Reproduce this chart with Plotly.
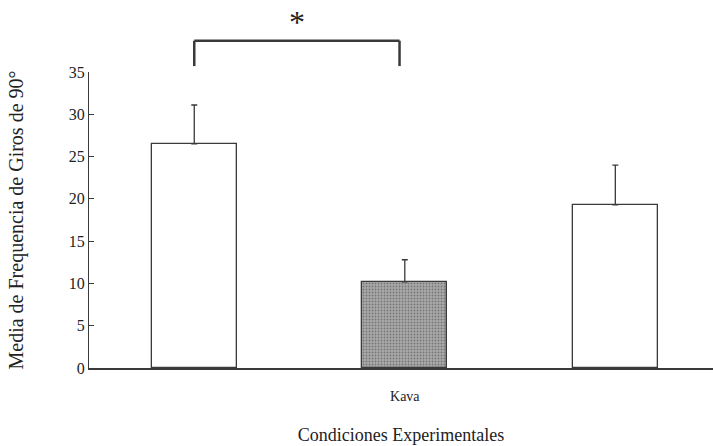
import plotly.graph_objects as go

categories = ["", "Kava", " "]
means = [26.5, 10.2, 19.3]
errors = [4.6, 2.6, 4.7]
bar_colors = ["#ffffff", "#a9a9a9", "#ffffff"]
y_ticks = [0, 5, 10, 15, 20, 25, 30, 35]

bracket_from, bracket_to = 0, 0.975
bracket_top, bracket_bottom = 38.7, 35.7
star_y = 43.3
y_max = 35

line_col = "#3a3a3a"
font_fam = "Liberation Serif"

fig = go.Figure()
fig.add_trace(go.Bar(
    x=[0, 1, 2], y=means, width=0.404,
    marker=dict(color=bar_colors, line=dict(color=line_col, width=1.3),
                pattern=dict(shape=["", ".", ""], fgcolor="#8a8a8a", bgcolor=bar_colors, size=3, solidity=0.3)),
    error_y=dict(type="data", symmetric=False, array=errors, arrayminus=[0, 0, 0],
                 color=line_col, thickness=1.3, width=3),
    showlegend=False,
))

def py(v):
    return v / y_max

fig.add_shape(type="line", xref="x", yref="paper",
              x0=bracket_from, x1=bracket_from, y0=py(bracket_bottom), y1=py(bracket_top),
              line=dict(color=line_col, width=2.5))
fig.add_shape(type="line", xref="x", yref="paper",
              x0=bracket_from, x1=bracket_to, y0=py(bracket_top), y1=py(bracket_top),
              line=dict(color=line_col, width=2.5))
fig.add_shape(type="line", xref="x", yref="paper",
              x0=bracket_to, x1=bracket_to, y0=py(bracket_bottom), y1=py(bracket_top),
              line=dict(color=line_col, width=2.5))
fig.add_annotation(x=(bracket_from + bracket_to) / 2, y=py(star_y), xref="x", yref="paper",
                   text="*", showarrow=False, font=dict(size=32, color="#222", family=font_fam))

fig.update_layout(
    width=713, height=446,
    margin=dict(l=89, r=0, t=72, b=78),
    plot_bgcolor="white", paper_bgcolor="white",
    font=dict(family=font_fam, color="#222"),
    bargap=0,
)
fig.update_xaxes(
    range=[-0.5, 2.464], tickmode="array", tickvals=[0, 1, 2], ticktext=categories,
    showline=True, linecolor=line_col, linewidth=1.5, ticks="", showgrid=False, zeroline=False,
    tickfont=dict(size=14, family=font_fam), ticklabelstandoff=14,
    title=dict(text="Condiciones Experimentales", font=dict(size=18, family=font_fam), standoff=26),
)
fig.update_yaxes(
    range=[0, 35], tickvals=y_ticks, showline=True, linecolor=line_col, linewidth=1.3,
    ticks="inside", ticklen=5, tickcolor=line_col, showgrid=False, zeroline=False,
    tickfont=dict(size=16, family=font_fam),
    title=dict(text="Media de Frequencia de Giros de 90°", font=dict(size=20, family=font_fam), standoff=39),
)
fig.write_html("out.html")
